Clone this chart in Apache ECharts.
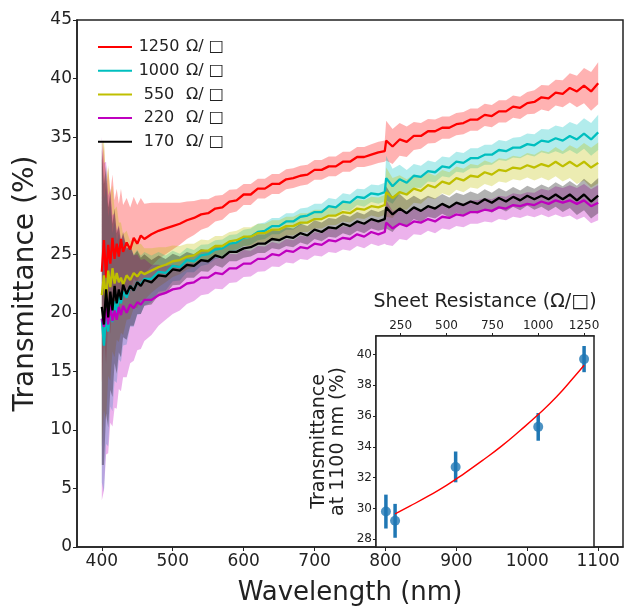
<!DOCTYPE html>
<html>
<head>
<meta charset="utf-8">
<script src="https://cdn.jsdelivr.net/npm/echarts@6/dist/echarts.min.js"></script>
<style>
  html, body { margin: 0; padding: 0; background: #fff; }
  #chart { width: 625px; height: 611px; }
</style>
</head>
<body>
<div id="chart"></div>
<script>
// wavelength grid (nm) - denser near 400 where the spectra are noisy, split at the 800 nm detector change
const wavelength = [
  400, 403, 406, 409, 412, 415, 418, 421, 424, 427, 430, 435, 440, 445, 450, 455, 460,
  470, 480, 490, 500, 510, 520, 530, 540, 550, 560, 570,
  580, 590, 600, 610, 620, 630, 640, 650, 660, 670, 680,
  690, 700, 710, 720, 730, 740, 750, 760, 770, 780, 790,
  799, 801,
  810, 820, 830, 840, 850, 860, 870, 880, 890, 900,
  910, 920, 930, 940, 950, 960, 970, 980, 990, 1000,
  1010, 1020, 1030, 1040, 1050, 1060, 1070, 1080, 1090, 1100
];

// mean transmittance (%) and spread, per sheet resistance
const mean1250 = [
  23.5, 26.2, 23.0, 25.8, 24.2, 26.4, 24.6, 25.9, 24.8, 26.3, 25.2, 26.0, 25.4, 26.4, 25.9, 26.6, 26.3,
  26.7, 27.0, 27.2, 27.4, 27.6, 27.9, 28.1, 28.4, 28.5, 28.9, 29.0,
  29.5, 29.6, 30.1, 30.1, 30.6, 30.6, 31.0, 31.0, 31.4, 31.5, 31.7,
  31.8, 32.2, 32.2, 32.5, 32.5, 32.9, 32.9, 33.3, 33.3, 33.5, 33.7,
  33.8, 34.7,
  34.2, 34.8, 34.6, 35.1, 35.1, 35.5, 35.5, 35.8, 35.8, 36.1,
  36.2, 36.5, 36.5, 36.9, 36.8, 37.2, 37.2, 37.6, 37.5, 37.9,
  38.0, 38.4, 38.3, 38.8, 38.7, 39.2, 38.9, 39.4, 38.9, 39.6
];
const std1250 = [
  9.5, 8.2, 7.4, 6.6, 6.0, 5.4, 5.0, 4.7, 4.5, 4.3, 4.0, 3.8, 3.6, 3.5, 3.3, 3.2, 3.0,
  2.7, 2.4, 2.2, 2.0, 1.8, 1.6, 1.45, 1.3, 1.2, 1.1, 1.05,
  1.0, 0.95, 0.9, 0.9, 0.85, 0.85, 0.85, 0.85, 0.85, 0.85, 0.85,
  0.85, 0.85, 0.85, 0.85, 0.85, 0.85, 0.85, 0.85, 0.85, 0.9, 0.9,
  0.9, 1.7,
  1.5, 1.4, 1.3, 1.2, 1.1, 1.05, 1.0, 0.95, 0.95, 0.95,
  0.95, 0.95, 0.95, 0.95, 0.95, 0.95, 0.95, 0.95, 0.95, 0.95,
  1.0, 1.05, 1.1, 1.1, 1.15, 1.25, 1.35, 1.5, 1.65, 1.8
];

const mean1000 = [
  19.5, 17.2, 19.8, 18.4, 20.6, 19.2, 21.0, 20.0, 21.4, 20.8, 21.8, 21.3, 22.3, 21.9, 22.6, 22.4, 22.9,
  22.9, 23.5, 23.4, 24.0, 23.9, 24.5, 24.4, 24.9, 25.0, 25.4, 25.5,
  25.9, 26.0, 26.4, 26.5, 26.9, 27.0, 27.4, 27.4, 27.8, 27.8, 28.2,
  28.3, 28.6, 28.6, 29.1, 29.0, 29.5, 29.4, 29.9, 29.8, 30.2, 30.1,
  30.3, 31.5,
  30.8, 31.4, 31.1, 31.7, 31.6, 32.1, 32.0, 32.5, 32.4, 32.9,
  32.8, 33.2, 33.2, 33.5, 33.5, 33.9, 33.8, 34.1, 34.1, 34.4,
  34.3, 34.7, 34.6, 34.9, 34.7, 35.1, 34.8, 35.3, 34.8, 35.4
];
const std1000 = [
  14.0, 12.5, 11.0, 9.8, 8.6, 7.6, 6.8, 6.0, 5.4, 5.0, 4.6, 4.0, 3.5, 3.1, 2.8, 2.5, 2.3,
  2.0, 1.7, 1.5, 1.3, 1.15, 1.05, 0.95, 0.9, 0.85, 0.8, 0.75,
  0.75, 0.7, 0.7, 0.7, 0.7, 0.7, 0.7, 0.7, 0.7, 0.7, 0.7,
  0.7, 0.7, 0.7, 0.7, 0.7, 0.7, 0.7, 0.7, 0.75, 0.75, 0.8,
  0.8, 1.9,
  1.5, 1.25, 1.1, 1.0, 0.95, 0.9, 0.85, 0.85, 0.85, 0.85,
  0.85, 0.85, 0.85, 0.85, 0.85, 0.85, 0.85, 0.85, 0.9, 0.9,
  0.95, 1.0, 1.05, 1.1, 1.15, 1.2, 1.25, 1.3, 1.4, 1.5
];

const mean550 = [
  21.5, 23.2, 21.0, 23.6, 22.2, 23.8, 22.5, 23.4, 22.6, 23.0, 22.4, 23.2, 22.8, 23.4, 23.1, 23.5, 23.3,
  23.6, 23.9, 24.1, 24.4, 24.5, 24.8, 24.9, 25.3, 25.3, 25.7, 25.7,
  26.1, 26.2, 26.5, 26.5, 26.8, 26.8, 27.1, 27.1, 27.4, 27.4, 27.7,
  27.7, 28.0, 28.0, 28.3, 28.3, 28.6, 28.5, 28.9, 28.8, 29.1, 29.0,
  29.2, 30.3,
  29.8, 30.3, 30.1, 30.6, 30.4, 30.9, 30.7, 31.2, 31.0, 31.5,
  31.3, 31.7, 31.6, 32.0, 31.8, 32.2, 32.1, 32.4, 32.3, 32.6,
  32.4, 32.7, 32.5, 32.9, 32.5, 32.9, 32.5, 32.9, 32.4, 32.8
];
const std550 = [
  13.0, 11.5, 10.2, 9.0, 8.0, 7.1, 6.3, 5.7, 5.1, 4.7, 4.3, 3.8, 3.3, 3.0, 2.7, 2.4, 2.2,
  1.9, 1.7, 1.5, 1.35, 1.2, 1.1, 1.0, 0.95, 0.9, 0.85, 0.85,
  0.8, 0.8, 0.8, 0.8, 0.8, 0.8, 0.8, 0.8, 0.8, 0.8, 0.8,
  0.8, 0.8, 0.8, 0.8, 0.8, 0.8, 0.8, 0.8, 0.8, 0.8, 0.85,
  0.85, 2.1,
  1.7, 1.45, 1.3, 1.2, 1.1, 1.05, 1.0, 1.0, 1.0, 1.0,
  1.0, 1.0, 1.0, 1.0, 1.0, 1.0, 1.0, 1.0, 1.0, 1.05,
  1.1, 1.15, 1.2, 1.25, 1.3, 1.4, 1.5, 1.6, 1.7, 1.75
];

const mean220 = [
  19.5, 18.8, 20.4, 19.0, 20.6, 19.3, 20.2, 19.4, 20.5, 19.8, 20.6, 20.0, 20.7, 20.4, 20.9, 20.7, 21.1,
  21.1, 21.5, 21.7, 22.0, 22.1, 22.5, 22.6, 23.0, 23.0, 23.4, 23.3,
  23.8, 23.8, 24.2, 24.2, 24.6, 24.6, 25.0, 24.9, 25.3, 25.2, 25.6,
  25.5, 25.9, 25.8, 26.2, 26.1, 26.4, 26.3, 26.7, 26.5, 26.9, 26.7,
  26.9, 27.7,
  27.2, 27.6, 27.4, 27.8, 27.7, 28.0, 27.8, 28.2, 28.1, 28.4,
  28.3, 28.6, 28.6, 28.8, 28.7, 29.0, 28.9, 29.2, 29.1, 29.3,
  29.2, 29.5, 29.3, 29.6, 29.4, 29.6, 29.3, 29.6, 29.1, 29.4
];
const std220 = [
  15.5, 14.0, 12.5, 11.0, 10.0, 9.0, 8.3, 7.6, 7.0, 6.5, 6.1, 5.5, 5.0, 4.5, 4.1, 3.8, 3.5,
  3.0, 2.6, 2.3, 2.1, 1.9, 1.75, 1.6, 1.5, 1.4, 1.35, 1.3,
  1.25, 1.2, 1.15, 1.1, 1.1, 1.05, 1.05, 1.0, 1.0, 1.0, 1.0,
  1.0, 1.0, 1.0, 1.0, 1.0, 1.0, 1.0, 1.0, 1.0, 1.0, 1.0,
  1.0, 1.9,
  1.5, 1.3, 1.2, 1.1, 1.05, 1.0, 1.0, 1.0, 1.0, 1.0,
  1.0, 1.0, 1.0, 1.0, 1.0, 1.0, 1.0, 1.0, 1.0, 1.0,
  1.05, 1.1, 1.15, 1.2, 1.25, 1.3, 1.35, 1.4, 1.45, 1.5
];

const mean170 = [
  20.5, 19.0, 22.0, 19.6, 21.8, 20.2, 22.3, 20.8, 22.0, 21.1, 22.4, 21.6, 22.3, 21.9, 22.6, 22.3, 22.8,
  22.6, 23.2, 23.1, 23.7, 23.6, 24.1, 24.0, 24.5, 24.4, 24.9, 24.7,
  25.2, 25.2, 25.5, 25.6, 25.9, 25.9, 26.3, 26.2, 26.5, 26.4, 26.8,
  26.6, 27.1, 26.9, 27.3, 27.2, 27.6, 27.4, 27.8, 27.6, 28.0, 27.8,
  28.0, 29.0,
  28.4, 28.9, 28.5, 29.0, 28.7, 29.1, 28.9, 29.3, 29.0, 29.4,
  29.2, 29.5, 29.3, 29.7, 29.4, 29.8, 29.5, 29.9, 29.6, 30.0,
  29.7, 30.0, 29.7, 30.1, 29.7, 30.1, 29.6, 30.1, 29.5, 30.0
];
const std170 = [
  13.5, 12.0, 10.6, 9.4, 8.4, 7.4, 6.6, 6.0, 5.4, 4.9, 4.5, 3.9, 3.4, 3.0, 2.7, 2.4, 2.2,
  1.9, 1.7, 1.5, 1.35, 1.2, 1.1, 1.0, 0.95, 0.9, 0.85, 0.85,
  0.8, 0.8, 0.8, 0.8, 0.8, 0.8, 0.8, 0.8, 0.8, 0.8, 0.8,
  0.8, 0.8, 0.8, 0.8, 0.8, 0.8, 0.8, 0.8, 0.8, 0.8, 0.8,
  0.85, 1.8,
  1.5, 1.25, 1.1, 1.0, 0.95, 0.9, 0.85, 0.85, 0.85, 0.85,
  0.85, 0.85, 0.85, 0.85, 0.85, 0.85, 0.85, 0.85, 0.85, 0.85,
  0.9, 0.95, 1.0, 1.05, 1.1, 1.15, 1.25, 1.35, 1.45, 1.5
];

const seriesNames = ["1250 Ω/ □", "1000 Ω/ □", "550 Ω/ □", "220 Ω/ □", "170 Ω/ □"];
const seriesColors = ["#ff0000", "#00bfbf", "#bfbf00", "#bf00bf", "#000000"];
const means = [mean1250, mean1000, mean550, mean220, mean170];
const stds = [std1250, std1000, std550, std220, std170];

// inset: transmittance at 1100 nm vs sheet resistance
const sheetRes = [170, 220, 550, 1000, 1250];
const trans1100 = [29.8, 29.2, 32.7, 35.3, 39.7];
const transErr = [1.1, 1.1, 1.0, 0.9, 0.85];
const fitRes = [220, 300, 400, 500, 600, 700, 800, 900, 1000, 1100, 1200, 1250];
const fitTrans = [29.65, 30.15, 30.8, 31.5, 32.3, 33.15, 34.05, 35.05, 36.1, 37.25, 38.6, 39.3];

const xTicks = [400, 500, 600, 700, 800, 900, 1000, 1100];
const insetXTicks = [250, 500, 750, 1000, 1250];
const insetYTicks = [28, 30, 32, 34, 36, 38, 40];

const FONT = "DejaVu Sans";
const chart = echarts.init(document.getElementById("chart"), null, { renderer: "canvas" });

const series = [];
means.forEach((m, k) => {
  const s = stds[k];
  // shaded band mean±std drawn as one polygon (only on the first item)
  series.push({
    name: "band" + k,
    type: "custom",
    silent: true,
    clip: true,
    data: wavelength.map((w, i) => [w, m[i] - s[i], m[i] + s[i]]),
    encode: { x: 0, y: [1, 2] },
    renderItem: (params, api) => {
      if (params.dataIndex !== 0) return null;
      const upper = wavelength.map((w, i) => api.coord([w, m[i] + s[i]]));
      const lower = wavelength.map((w, i) => api.coord([w, m[i] - s[i]])).reverse();
      return {
        type: "polygon",
        shape: { points: upper.concat(lower) },
        style: { fill: seriesColors[k], opacity: 0.3 }
      };
    }
  });
  series.push({
    name: seriesNames[k],
    type: "line",
    symbol: "none",
    color: seriesColors[k],
    lineStyle: { color: seriesColors[k], width: 2.3 },
    data: wavelength.map((w, i) => [w, m[i]])
  });
});

// inset error bars
series.push({
  type: "custom",
  xAxisIndex: 1,
  yAxisIndex: 1,
  z: 5,
  data: sheetRes.map((r, i) => [r, trans1100[i] - transErr[i], trans1100[i] + transErr[i]]),
  encode: { x: 0, y: [1, 2] },
  renderItem: (params, api) => {
    const lo = api.coord([api.value(0), api.value(1)]);
    const hi = api.coord([api.value(0), api.value(2)]);
    return {
      type: "line",
      shape: { x1: lo[0], y1: lo[1], x2: hi[0], y2: hi[1] },
      style: { stroke: "#1f77b4", lineWidth: 3.5 }
    };
  }
});
series.push({
  type: "scatter",
  xAxisIndex: 1,
  yAxisIndex: 1,
  z: 6,
  symbolSize: 10,
  itemStyle: { color: "#1f77b4" },
  data: sheetRes.map((r, i) => [r, trans1100[i]])
});
series.push({
  type: "line",
  xAxisIndex: 1,
  yAxisIndex: 1,
  z: 7,
  symbol: "none",
  smooth: true,
  lineStyle: { color: "#ff0000", width: 1.4 },
  data: fitRes.map((r, i) => [r, fitTrans[i]])
});

const plain = v => String(v);

const option = {
  animation: false,
  backgroundColor: "#fff",
  textStyle: { fontFamily: FONT },
  legend: {
    data: seriesNames,
    orient: "vertical",
    left: 93,
    top: 33,
    itemWidth: 34,
    itemHeight: 14,
    itemGap: 5.7,
    icon: "path://M0,6 L34,6 L34,8 L0,8 Z",
    formatter: name => {
      const parts = name.split(" ");
      return `{n|${parts[0]}} ${parts.slice(1).join(" ")}`;
    },
    textStyle: {
      fontFamily: FONT,
      fontSize: 16,
      color: "#222",
      lineHeight: 18,
      rich: {
        n: { width: 44, align: "right", fontFamily: FONT, fontSize: 16, color: "#222" }
      }
    }
  },
  grid: [
    { left: 77, right: 2, top: 20, bottom: 60, show: true, borderColor: "#222", borderWidth: 1.5 },
    { left: 376, right: 31, top: 336, bottom: 64, show: true, backgroundColor: "#fff", borderColor: "#222", borderWidth: 1.5, z: 4 }
  ],
  xAxis: [
    {
      type: "value",
      gridIndex: 0,
      min: 365,
      max: 1135,
      name: "Wavelength (nm)",
      nameLocation: "middle",
      nameGap: 33,
      nameTextStyle: { fontSize: 26, color: "#222", fontFamily: FONT },
      axisLine: { lineStyle: { color: "#222", width: 1.5 } },
      axisTick: { customValues: xTicks, length: 4, lineStyle: { color: "#222" } },
      axisLabel: { customValues: xTicks, formatter: plain, fontSize: 17, color: "#222", margin: 6 },
      splitLine: { show: false }
    },
    {
      type: "value",
      gridIndex: 1,
      position: "top",
      min: 116,
      max: 1304,
      name: "Sheet Resistance (Ω/□)",
      nameLocation: "middle",
      nameGap: 24,
      nameTextStyle: { fontSize: 19, color: "#222", fontFamily: FONT },
      axisLine: { lineStyle: { color: "#222", width: 1.5 } },
      axisTick: { customValues: insetXTicks, length: 3, lineStyle: { color: "#222" } },
      axisLabel: { customValues: insetXTicks, formatter: plain, fontSize: 12, color: "#222", margin: 4 },
      splitLine: { show: true, lineStyle: { color: "#dcdcdc", width: 1 } }
    }
  ],
  yAxis: [
    {
      type: "value",
      gridIndex: 0,
      min: 0,
      max: 45,
      interval: 5,
      name: "Transmittance (%)",
      nameLocation: "middle",
      nameGap: 37,
      nameTextStyle: { fontSize: 28, color: "#222", fontFamily: FONT },
      axisLine: { show: true, lineStyle: { color: "#222", width: 1.5 } },
      axisTick: { show: true, length: 4, lineStyle: { color: "#222" } },
      axisLabel: { fontSize: 17, color: "#222", margin: 5 },
      splitLine: { show: false }
    },
    {
      type: "value",
      gridIndex: 1,
      min: 27.5,
      max: 41.2,
      name: "Transmittance\nat 1100 nm (%)",
      nameLocation: "middle",
      nameGap: 28,
      nameTextStyle: { fontSize: 19, lineHeight: 19, color: "#222", fontFamily: FONT, align: "center" },
      axisLine: { show: true, lineStyle: { color: "#222", width: 1.5 } },
      axisTick: { show: true, customValues: insetYTicks, length: 3, lineStyle: { color: "#222" } },
      axisLabel: { customValues: insetYTicks, fontSize: 12, color: "#222", margin: 4 },
      splitLine: { show: true, lineStyle: { color: "#dcdcdc", width: 1 } }
    }
  ],
  series: series
};

chart.setOption(option);
</script>
</body>
</html>
